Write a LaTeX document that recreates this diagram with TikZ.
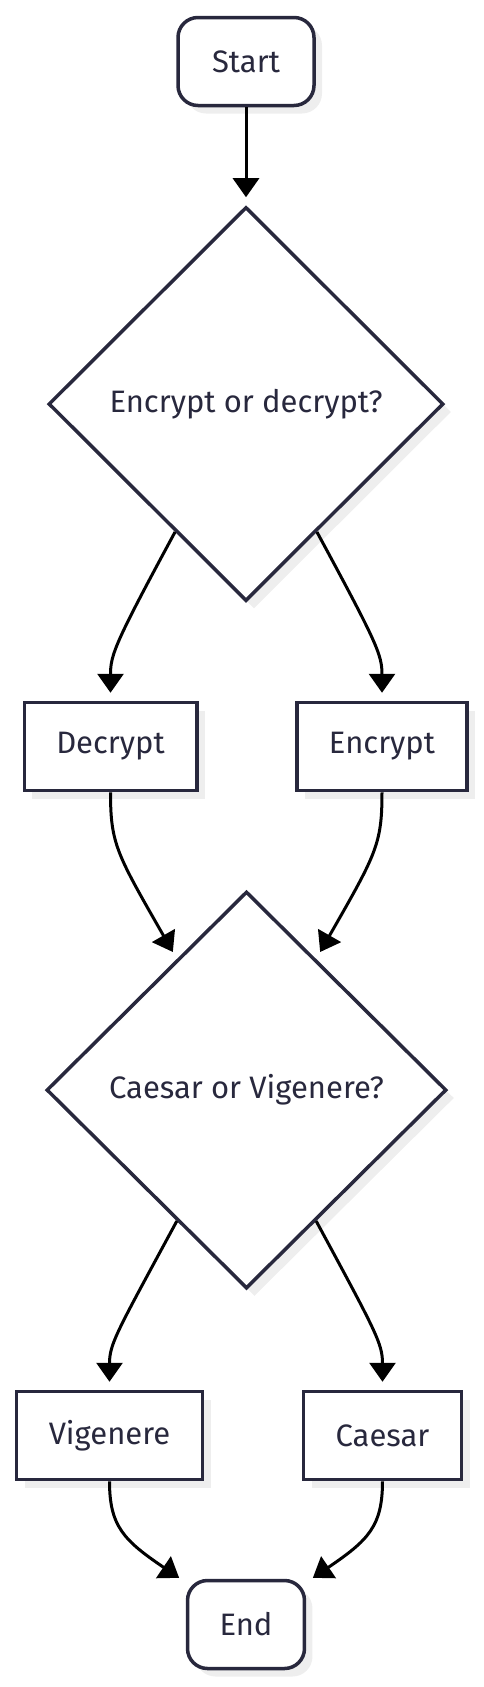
\documentclass[tikz,border=0pt]{standalone}
\usepackage{fontspec}
\setmainfont{Fira Sans}
\usetikzlibrary{shapes.geometric,arrows.meta,shadows}
\definecolor{ink}{HTML}{28283D}
\definecolor{shade}{HTML}{EEEEEE}

\begin{document}
\begin{tikzpicture}[x=1pt,y=1pt,shorten >=8pt,-{Triangle[length=19pt,width=26pt]},line width=3pt]
  \tikzstyle{box}=[rectangle,draw=ink,line width=3.5pt,fill=white,text=ink,minimum height=88pt,inner xsep=32pt,font=\fontsize{31}{37}\selectfont,drop shadow={shadow xshift=8pt,shadow yshift=-8pt,fill=shade,opacity=1}]
  \tikzstyle{term}=[box,rounded corners=20pt]
  \tikzstyle{choice}=[box,diamond,aspect=1]
  \useasboundingbox (0,0) rectangle (483,-1687);

  \node[term,minimum width=136pt] (F_start) at (246,-61.5) {Start};
  \node[choice,minimum width=395pt,minimum height=394pt] (F_crypt) at (246,-404) {Encrypt or decrypt?};
  \node[box,minimum width=172pt] (F_dec) at (110.5,-746.5) {Decrypt};
  \node[box,minimum width=169pt] (F_enc) at (382,-746.5) {Encrypt};
  \node[choice,minimum width=400pt,minimum height=397pt] (F_cipher) at (246.5,-1090) {Caesar or Vigenere?};
  \node[box,minimum width=186pt] (F_vig) at (109.5,-1435.5) {Vigenere};
  \node[box,minimum width=158pt] (F_cae) at (382.5,-1435.5) {Caesar};
  \node[term,minimum width=111pt] (F_end) at (246,-1624.5) {End};

  \draw (F_start) -- (F_crypt);

  \draw (F_crypt.-119) .. controls +(-60,-111) and +(0,46) .. (F_dec.north);
  \draw (F_crypt.-61) .. controls +(60,-111) and +(0,46) .. (F_enc.north);

  \draw (F_dec.south) .. controls +(0,-52) and +(-60,105) .. (F_cipher.118);
  \draw (F_enc.south) .. controls +(0,-52) and +(60,105) .. (F_cipher.62);

  \draw (F_cipher.-118) .. controls +(-60,-111) and +(0,46) .. (F_vig.north);
  \draw (F_cipher.-62) .. controls +(60,-111) and +(0,46) .. (F_cae.north);

  \draw (F_vig.south) .. controls +(0,-45) and +(-62,42) .. (F_end.145);
  \draw (F_cae.south) .. controls +(0,-45) and +(62,42) .. (F_end.35);
\end{tikzpicture}
\end{document}
